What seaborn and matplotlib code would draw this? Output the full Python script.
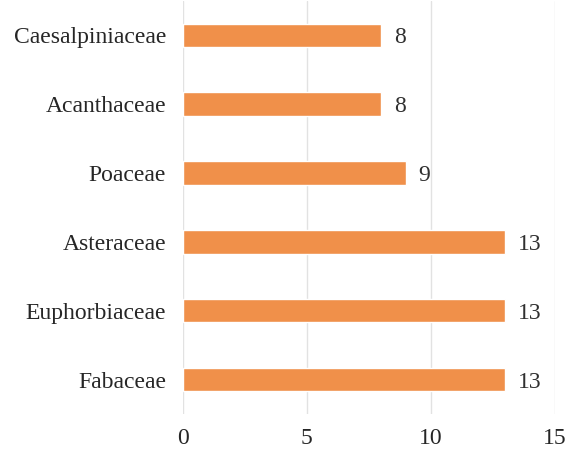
import matplotlib
matplotlib.use("Agg")
import matplotlib.pyplot as plt
import seaborn as sns
import pandas as pd

# ----------------------------------------
# Data
# ----------------------------------------

families = ["Caesalpiniaceae", "Acanthaceae", "Poaceae",
            "Asteraceae", "Euphorbiaceae", "Fabaceae"]
counts = [8, 8, 9, 13, 13, 13]
x_ticks = [0, 5, 10, 15]

df = pd.DataFrame({"family": families, "count": counts})

# ----------------------------------------
# Plot
# ----------------------------------------

sns.set_style("white")
plt.rcParams["font.family"] = ["Liberation Serif", "DejaVu Serif"]

fig = plt.figure(figsize=(5.68, 4.59), dpi=100)
ax = fig.add_axes([0.322, 0.098, 0.655, 0.9])

sns.barplot(data=df, x="count", y="family", orient="h",
            color="#F0904A", saturation=1, width=0.34, ax=ax)

for i, v in enumerate(counts):
    ax.text(v + 0.5, i, str(v), va="center_baseline", ha="left",
            fontsize=17, color="#303030")

ax.set_xlim(0, 15)
ax.set_ylim(5.5, -0.5)
ax.set_xticks(x_ticks)
ax.set_xticklabels([str(t) for t in x_ticks])
ax.xaxis.grid(True, color="#E2E2E2", linewidth=1)
ax.set_axisbelow(True)
for s in ax.spines.values():
    s.set_visible(False)
ax.tick_params(axis="both", length=0, labelsize=17, colors="#262626")
ax.tick_params(axis="x", pad=10)
ax.tick_params(axis="y", pad=12)
for lbl in ax.get_yticklabels():
    lbl.set_verticalalignment("center_baseline")
ax.set_xlabel("")
ax.set_ylabel("")

plt.savefig("out.png", dpi=100)
